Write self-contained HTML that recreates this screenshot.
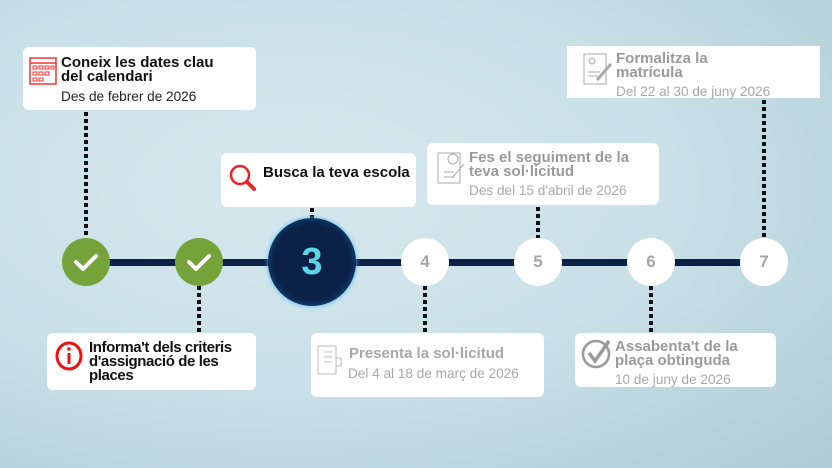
<!DOCTYPE html>
<html><head><meta charset="utf-8"><style>
body{margin:0;width:832px;height:468px;overflow:hidden;font-family:"Liberation Sans",sans-serif;
background:radial-gradient(ellipse at 35% 40%,#d6e8ee 0%,#c9e0e7 50%,#aecbd6 100%);position:relative}
.b{position:absolute;background:#fff;border-radius:6px}
.d{position:absolute;width:4px;background:repeating-linear-gradient(to bottom,#111 0 4px,transparent 4px 7px)}
.t{position:absolute;font-weight:bold;font-size:15px;line-height:14px;color:#111}
.s{position:absolute;font-size:13.6px;color:#222}
.g{color:#9a9a9a}.gs{color:#a8a8a8}
.c{position:absolute;width:48px;height:48px;border-radius:50%;background:#fff;color:#a6a6a6;font-weight:bold;font-size:17px;text-align:center;line-height:48px}
.gr{background:#76a23a}
</style></head><body>
<div style="position:absolute;left:86px;top:259px;width:678px;height:7px;background:#0b2147"></div>
<div class="d" style="left:84px;top:112px;height:126px"></div>
<div class="d" style="left:310px;top:208px;height:11px"></div>
<div class="d" style="left:197px;top:286px;height:47px"></div>
<div class="d" style="left:423px;top:286px;height:47px"></div>
<div class="d" style="left:536px;top:207px;height:31px"></div>
<div class="d" style="left:649px;top:286px;height:47px"></div>
<div class="d" style="left:762px;top:100px;height:138px"></div>

<div class="c gr" style="left:62px;top:238px"><svg width="48" height="48"><path d="M14 24l7 7 13-13" stroke="#fff" stroke-width="4" fill="none" stroke-linecap="round" stroke-linejoin="round"/></svg></div>
<div class="c gr" style="left:175px;top:238px"><svg width="48" height="48"><path d="M14 24l7 7 13-13" stroke="#fff" stroke-width="4" fill="none" stroke-linecap="round" stroke-linejoin="round"/></svg></div>
<div class="c" style="left:268px;top:218px;width:88px;height:88px;line-height:88px;background:radial-gradient(circle,#0b2147 60%,#11487e 80%,#2fa2e0 100%);box-shadow:0 0 5px #4ab8ef;color:#5ad6e6;font-size:38px">3</div>
<div class="c" style="left:401px;top:238px">4</div>
<div class="c" style="left:514px;top:238px">5</div>
<div class="c" style="left:627px;top:238px">6</div>
<div class="c" style="left:740px;top:238px">7</div>

<div class="b" style="left:23px;top:47px;width:233px;height:63px"></div>
<svg style="position:absolute;left:28px;top:54px" width="30" height="32"><rect x="2" y="4" width="26" height="26" fill="none" stroke="#e33" stroke-width="1.5"/><line x1="2" y1="9" x2="28" y2="9" stroke="#e33" stroke-width="1.5"/><g fill="none" stroke="#e33"><rect x="5" y="12" width="4" height="3"/><rect x="11" y="12" width="4" height="3"/><rect x="17" y="12" width="4" height="3"/><rect x="23" y="12" width="3" height="3"/><rect x="5" y="18" width="4" height="3"/><rect x="11" y="18" width="4" height="3"/><rect x="17" y="18" width="4" height="3"/><rect x="5" y="24" width="4" height="3"/><rect x="11" y="24" width="4" height="3"/></g></svg>
<div class="t" style="left:61px;top:56px">Coneix les dates clau<br>del calendari</div>
<div class="s" style="left:61px;top:89px">Des de febrer de 2026</div>

<div class="b" style="left:221px;top:153px;width:195px;height:54px"></div>
<svg style="position:absolute;left:228px;top:163px" width="30" height="30"><circle cx="12" cy="12" r="9" fill="none" stroke="#e22" stroke-width="2.5"/><line x1="19" y1="19" x2="26" y2="26" stroke="#e22" stroke-width="4" stroke-linecap="round"/></svg>
<div class="t" style="left:263px;top:166px">Busca la teva escola</div>

<div class="b" style="left:47px;top:333px;width:209px;height:57px"></div>
<svg style="position:absolute;left:55px;top:340px" width="30" height="32"><ellipse cx="14" cy="16" rx="12" ry="13" fill="none" stroke="#e11" stroke-width="3"/><circle cx="14" cy="9" r="1.8" fill="#e11"/><line x1="14" y1="13" x2="14" y2="24" stroke="#e11" stroke-width="3"/></svg>
<div class="t" style="left:89px;top:341px;letter-spacing:-0.4px">Informa't dels criteris<br>d'assignació de les<br>places</div>

<div class="b" style="left:311px;top:333px;width:233px;height:64px"></div>
<svg style="position:absolute;left:316px;top:344px" width="28" height="34" stroke="#bbb" fill="none"><rect x="2" y="2" width="18" height="28"/><line x1="8" y1="8" x2="16" y2="8"/><line x1="8" y1="13" x2="16" y2="13"/><line x1="8" y1="18" x2="16" y2="18"/><rect x="20" y="14" width="5" height="8"/></svg>
<div class="t gs" style="left:349px;top:347px">Presenta la sol·licitud</div>
<div class="s gs" style="left:348px;top:366px">Del 4 al 18 de març de 2026</div>

<div class="b" style="left:427px;top:143px;width:232px;height:62px"></div>
<svg style="position:absolute;left:436px;top:150px" width="30" height="36" stroke="#aaa" fill="none"><rect x="2" y="3" width="22" height="30"/><circle cx="17" cy="9" r="5"/><line x1="8" y1="22" x2="18" y2="22"/><line x1="8" y1="27" x2="18" y2="27"/><line x1="28" y1="14" x2="16" y2="28"/></svg>
<div class="t g" style="left:469px;top:151px">Fes el seguiment de la<br>teva sol·licitud</div>
<div class="s gs" style="left:469px;top:183px">Des del 15 d'abril de 2026</div>

<div class="b" style="left:575px;top:333px;width:201px;height:54px"></div>
<svg style="position:absolute;left:580px;top:337px" width="34" height="32" fill="none" stroke="#999"><circle cx="16" cy="17" r="13" stroke-width="2.5"/><path d="M9 16l6 8 14-20" stroke-width="3.5"/></svg>
<div class="t g" style="left:615px;top:340px">Assabenta't de la<br>plaça obtinguda</div>
<div class="s gs" style="left:615px;top:372px">10 de juny de 2026</div>

<div class="b" style="left:567px;top:46px;width:253px;height:52px;border-radius:0"></div>
<svg style="position:absolute;left:582px;top:50px" width="32" height="38" stroke="#aaa" fill="none"><rect x="2" y="4" width="22" height="30"/><circle cx="10" cy="11" r="3"/><line x1="6" y1="22" x2="18" y2="22"/><line x1="6" y1="26" x2="16" y2="26"/><line x1="29" y1="14" x2="15" y2="30" stroke-width="3"/></svg>
<div class="t g" style="left:616px;top:52px">Formalitza la<br>matrícula</div>
<div class="s gs" style="left:616px;top:84px">Del 22 al 30 de juny 2026</div>
</body></html>
